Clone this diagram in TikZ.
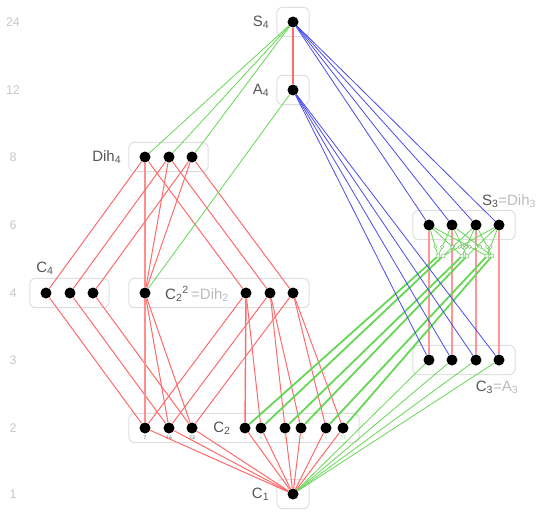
\documentclass[tikz,border=0pt]{standalone}
\usepackage{fontspec}
\setmainfont{Liberation Sans}
\usepackage{tikz}
\usetikzlibrary{positioning}
\usetikzlibrary{fit}

\definecolor{linered}{HTML}{FF6A6A}
\definecolor{linegreen}{HTML}{66D655}
\definecolor{lineblue}{HTML}{4B4BEB}
\definecolor{boxgray}{HTML}{DEDEDE}
\definecolor{textdark}{HTML}{555555}
\definecolor{textlight}{HTML}{BBBBBB}
\definecolor{numgray}{HTML}{C8C8C8}
\definecolor{tinygreen}{HTML}{A8DDA0}

\begin{document}
\begin{tikzpicture}[x=1pt, y=-1pt]
	\useasboundingbox (0,0) rectangle (540,519);
	% orders
	\begin{scope}[every node/.style = {text=numgray, font=\fontsize{12.5}{14}\selectfont}]
		\node (n24) at (13,22) {24};
		\node (n12) at (13,90) {12};
		\node (n8) at (13,157) {8};
		\node (n6) at (13,225) {6};
		\node (n4) at (13,293) {4};
		\node (n3) at (13,360) {3};
		\node (n2) at (13,428) {2};
		\node (n1) at (13,494) {1};
	\end{scope}
	% subgroups
	\begin{scope}[every node/.style = {circle, fill=black, inner sep=0pt, minimum size=11pt}]
		\node (S4) at (293,22) {};
		\node (A4) at (293,90) {};
		\node (D1) at (145,157) {};
		\node (D2) at (169,157) {};
		\node (D3) at (192,157) {};
		\node (T1) at (429,225) {};
		\node (T2) at (452,225) {};
		\node (T3) at (476,225) {};
		\node (T4) at (499,225) {};
		\node (F1) at (46,293) {};
		\node (F2) at (70,293) {};
		\node (F3) at (93,293) {};
		\node (V) at (145,293) {};
		\node (W1) at (246,293) {};
		\node (W2) at (270,293) {};
		\node (W3) at (293,293) {};
		\node (R1) at (429,360) {};
		\node (R2) at (452,360) {};
		\node (R3) at (476,360) {};
		\node (R4) at (499,360) {};
		\node (Z7) at (145,428) {};
		\node (Z16) at (169,428) {};
		\node (Z23) at (192,428) {};
		\node (Z1) at (245,428) {};
		\node (Z6) at (261,428) {};
		\node (Z5) at (285,428) {};
		\node (Z14) at (301,428) {};
		\node (Z2) at (326,428) {};
		\node (Z21) at (343,428) {};
		\node (C1) at (293,494) {};
	\end{scope}
	% junctions below S3
	\begin{scope}[every node/.style = {circle, draw=linegreen!75!gray, fill=white, line width=0.5pt, inner sep=0pt, minimum size=4pt}]
		\node (J1) at (438,256) {};
		\node (J6) at (443,256) {};
		\node (J5) at (462,256) {};
		\node (J14) at (467,256) {};
		\node (J2) at (487,256) {};
		\node (J21) at (492,256) {};
	\end{scope}
	% conjugacy classes
	\begin{scope}[every node/.style = {rectangle, rounded corners=6pt, draw=boxgray, line width=1pt, inner xsep=10.5pt, inner ysep=9pt}]
		\node [fit=(S4)] (bS4) {};
		\node [fit=(A4)] (bA4) {};
		\node [fit=(D1)(D3)] (bDih) {};
		\node [fit=(T1)(T4)] (bS3) {};
		\node [fit=(F1)(F3)] (bC4) {};
		\node [fit=(V)(W3)] (bV) {};
		\node [fit=(R1)(R4)] (bC3) {};
		\node [fit=(Z7)(Z21)] (bC2) {};
		\node [fit=(C1)] (bC1) {};
	\end{scope}
	\begin{scope}[every node/.style = {text=textdark, inner sep=0pt, font=\fontsize{15}{18}\selectfont}]
		\node [left=7pt of bS4] (tS4) {S\textsubscript{4}};
		\node [left=7pt of bA4] (tA4) {A\textsubscript{4}};
		\node [left=7pt of bDih] (tDih) {Dih\textsubscript{4}};
		\node (tC4) at (45,268) {C\textsubscript{4}};
		\node (tV) at (197,294) {C\textsubscript{2}\textsuperscript{2}\,\textcolor{textlight}{=Dih\textsubscript{2}}};
		\node (tC2) at (222,428) {C\textsubscript{2}};
		\node (tS3) at (509,201) {S\textsubscript{3}\textcolor{textlight}{=Dih\textsubscript{3}}};
		\node (tC3) at (497,387) {C\textsubscript{3}\textcolor{textlight}{=A\textsubscript{3}}};
		\node [left=7pt of bC1] (tC1) {C\textsubscript{1}};
	\end{scope}
	\begin{scope}[every node/.style = {inner sep=0pt, font=\fontsize{5}{6}\selectfont}]
		\node [text=textdark, below=2pt of Z7] (l7) {7};
		\node [text=textdark, below=2pt of Z16] (l16) {16};
		\node [text=textdark, below=2pt of Z23] (l23) {23};
		\node [text=tinygreen, below=2pt of Z1] (l1) {1};
		\node [text=tinygreen, below=2pt of Z6] (l6) {6};
		\node [text=tinygreen, below=2pt of Z5] (l5) {5};
		\node [text=tinygreen, below=2pt of Z14] (l14) {14};
		\node [text=tinygreen, below=2pt of Z2] (l2) {2};
		\node [text=tinygreen, below=2pt of Z21] (l21) {21};
	\end{scope}
	% index 2
	\begin{scope}[every edge/.style={draw=linered, line width=1pt}]
		\path [-] (S4) edge[line width=1.4pt] (A4);
		\path [-] (D1) edge (F1) edge[draw=linered!75, line width=1.8pt] (V) edge (W1);
		\path [-] (D2) edge (F2) edge (V) edge (W2);
		\path [-] (D3) edge (F3) edge (V) edge (W3);
		\path [-] (F1) edge (Z7);
		\path [-] (F2) edge (Z16);
		\path [-] (F3) edge (Z23);
		\path [-] (V) edge[draw=linered!75, line width=1.8pt] (Z7) edge (Z16) edge (Z23);
		\path [-] (W1) edge (Z7) edge[line width=1.4pt] (Z1) edge (Z6);
		\path [-] (W2) edge (Z16) edge (Z5) edge (Z14);
		\path [-] (W3) edge (Z23) edge (Z2) edge (Z21);
		\path [-] (C1) edge (Z7) edge (Z16) edge (Z23) edge (Z1) edge (Z6)
			edge (Z5) edge (Z14) edge (Z2) edge (Z21);
	\end{scope}
	\begin{scope}[every edge/.style={draw=linered!70, line width=1.4pt}]
		\path [-] (T1) edge (R1);
		\path [-] (T2) edge (R2);
		\path [-] (T3) edge (R3);
		\path [-] (T4) edge (R4);
	\end{scope}
	% index 3
	\begin{scope}[every edge/.style={draw=linegreen, line width=0.8pt},
			ring/.style={circle, draw=linegreen!75!gray, fill=white, line width=0.4pt, inner sep=0pt, minimum size=3.5pt, pos=0.3}]
		\path [-] (S4) edge (D1) edge (D2) edge (D3);
		\path [-] (A4) edge (V);
		\path [-] (C1) edge (R1) edge (R2) edge (R3) edge (R4);
		\path [-] (J1) edge node[ring] (m1a) {} (T1) edge node[ring] (m1b) {} (T2);
		\path [-] (J6) edge node[ring] (m6a) {} (T3) edge node[ring] (m6b) {} (T4);
		\path [-] (J5) edge node[ring] (m5a) {} (T1) edge node[ring] (m5b) {} (T3);
		\path [-] (J14) edge node[ring] (m14a) {} (T2) edge node[ring] (m14b) {} (T4);
		\path [-] (J2) edge node[ring] (m2a) {} (T1) edge node[ring] (m2b) {} (T4);
		\path [-] (J21) edge node[ring] (m21a) {} (T2) edge node[ring] (m21b) {} (T3);
	\end{scope}
	\begin{scope}[every edge/.style={draw=linegreen, line width=1.8pt}]
		\path [-] (Z1) edge (J1);
		\path [-] (Z6) edge (J6);
		\path [-] (Z5) edge (J5);
		\path [-] (Z14) edge (J14);
		\path [-] (Z2) edge (J2);
		\path [-] (Z21) edge (J21);
	\end{scope}
	% index 4
	\begin{scope}[every edge/.style={draw=lineblue, line width=0.8pt}]
		\path [-] (S4) edge (T1) edge (T2) edge (T3) edge (T4);
		\path [-] (A4) edge (R1) edge (R2) edge (R3) edge (R4);
	\end{scope}
\end{tikzpicture}
\end{document}
